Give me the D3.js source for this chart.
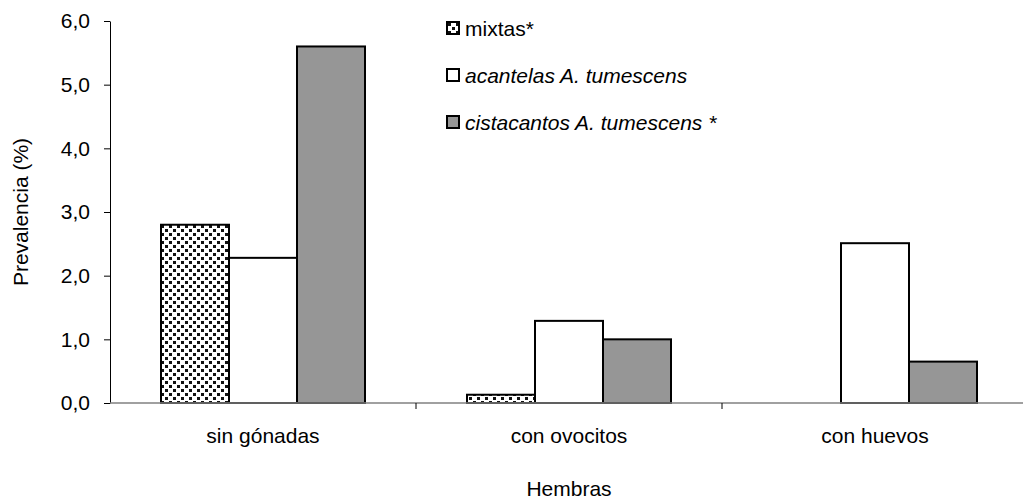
<!DOCTYPE html>
<html>
<head>
<meta charset="utf-8">
<script src="https://cdn.jsdelivr.net/npm/d3@7"></script>
<style>
  body { margin: 0; background: #fff; }
  svg { font-family: "Liberation Sans", Arial, sans-serif; }
</style>
</head>
<body>
<svg id="main-vis"></svg>
<script>
const categories = ["sin gónadas", "con ovocitos", "con huevos"];
const seriesNames = ["mixtas*", "acantelas A. tumescens", "cistacantos A. tumescens *"];
const mixtas = [2.8, 0.13, 0];
const acantelas = [2.28, 1.29, 2.51];
const cistacantos = [5.6, 1.0, 0.65];
const yTicks = [0, 1, 2, 3, 4, 5, 6];

const width = 1023;
const height = 499;
const fs = 21;

const svg = d3.select("#main-vis")
  .attr("width", width)
  .attr("height", height);

// dotted pattern for "mixtas"
const defs = svg.append("defs");
const pat = defs.append("pattern")
  .attr("id", "dots")
  .attr("patternUnits", "userSpaceOnUse")
  .attr("width", 8)
  .attr("height", 8);
pat.append("rect").attr("width", 8).attr("height", 8).attr("fill", "#fff");
pat.append("rect").attr("x", 1).attr("y", 1).attr("width", 3).attr("height", 3).attr("fill", "#111");
pat.append("rect").attr("x", 5).attr("y", 5).attr("width", 3).attr("height", 3).attr("fill", "#111");

const fills = ["url(#dots)", "#ffffff", "#969696"];
const series = [mixtas, acantelas, cistacantos];

const x0 = 110, yBottom = 403, yTop = 21;
const plotRight = x0 + 306 * 3; // plot area runs past the picture edge

const x = d3.scaleBand()
  .domain(categories)
  .range([x0, plotRight]);

// bars sit in the middle of each category, gap width 150%
const xs = d3.scaleBand()
  .domain(d3.range(3))
  .range([0, x.bandwidth()])
  .paddingInner(0)
  .paddingOuter(0.75);

const y = d3.scaleLinear()
  .domain([0, 6])
  .range([yBottom, yTop]);

// bars
series.forEach((vals, si) => {
  svg.append("g")
    .selectAll("rect")
    .data(vals.map((v, i) => ({ v, c: categories[i] })).filter(d => d.v > 0))
    .enter()
    .append("rect")
    .attr("x", d => x(d.c) + xs(si))
    .attr("y", d => y(d.v))
    .attr("width", xs.bandwidth())
    .attr("height", d => y(0) - y(d.v))
    .attr("fill", fills[si])
    .attr("stroke", "#000")
    .attr("stroke-width", 2);
});

// y axis
const yAxis = svg.append("g")
  .attr("transform", `translate(${x0},0)`)
  .call(d3.axisLeft(y).tickValues(yTicks).tickSize(6).tickSizeOuter(0)
    .tickFormat(d => d3.format(".1f")(d).replace(".", ",")));
yAxis.select(".domain").attr("stroke", "#000");
yAxis.selectAll(".tick line").attr("stroke", "#000");
yAxis.selectAll("text")
  .attr("font-size", fs)
  .attr("fill", "#000")
  .attr("font-family", "Liberation Sans, Arial, sans-serif")
  .attr("x", -20);

// x axis baseline and category ticks
svg.append("line")
  .attr("x1", x0).attr("x2", width)
  .attr("y1", y(0)).attr("y2", y(0))
  .attr("stroke", "#808080")
  .attr("stroke-width", 1.5);

svg.append("g")
  .selectAll("line")
  .data(categories.slice(1))
  .enter()
  .append("line")
  .attr("x1", d => x(d)).attr("x2", d => x(d))
  .attr("y1", y(0)).attr("y2", y(0) + 6)
  .attr("stroke", "#000");

svg.append("g")
  .selectAll("text")
  .data(categories)
  .enter()
  .append("text")
  .attr("x", d => x(d) + x.bandwidth() / 2)
  .attr("y", 443)
  .attr("text-anchor", "middle")
  .attr("font-size", fs)
  .text(d => d);

// axis titles
svg.append("text")
  .attr("transform", "translate(28,212) rotate(-90)")
  .attr("text-anchor", "middle")
  .attr("font-size", fs)
  .text("Prevalencia (%)");

svg.append("text")
  .attr("x", (x0 + plotRight) / 2)
  .attr("y", 496)
  .attr("text-anchor", "middle")
  .attr("font-size", fs)
  .text("Hembras");

// legend
const legend = svg.append("g").attr("transform", "translate(447,22)");
legend.selectAll("g")
  .data(seriesNames)
  .enter()
  .append("g")
  .attr("transform", (d, i) => `translate(0, ${i * 47})`)
  .each(function (d, i) {
    const g = d3.select(this);
    g.append("rect")
      .attr("width", 12)
      .attr("height", 12)
      .attr("fill", fills[i])
      .attr("stroke", "#000")
      .attr("stroke-width", 2);
    g.append("text")
      .attr("x", 18)
      .attr("y", 14)
      .attr("font-size", fs)
      .attr("font-style", i === 0 ? "normal" : "italic")
      .text(d);
  });
</script>
</body>
</html>
